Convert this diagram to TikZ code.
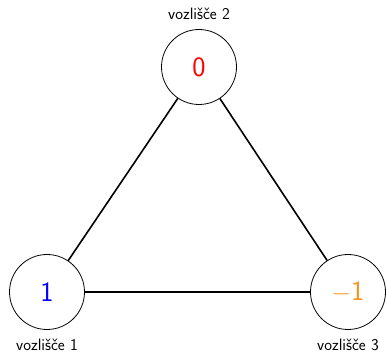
\documentclass[tikz,border=0pt]{standalone}
\usepackage{tikz}
\begin{document}
\begin{tikzpicture}[x=1pt,y=-1pt,
  vertex/.style={circle,draw,line width=0.8pt,minimum size=75pt,inner sep=0pt,font=\fontsize{28}{30}\sffamily},
  lbl/.style={font=\fontsize{16.5}{19}\sffamily,inner sep=0pt},
  edge/.style={line width=1.6pt}]
\useasboundingbox (0,0) rectangle (386,352);
\node[vertex,text=red] (v2) at (199,67) {0};
\node[vertex,text=blue] (v1) at (47,292) {1};
\node[vertex,text={rgb,255:red,247;green,147;blue,30}] (v3) at (348,292) {$-$1};
\node[lbl] (l2) at (199,14) {vozlišče 2};
\node[lbl] (l1) at (47,344.5) {vozlišče 1};
\node[lbl] (l3) at (348,344.5) {vozlišče 3};
\draw[edge] (v1) -- (v2);
\draw[edge] (v2) -- (v3);
\draw[edge] (v1) -- (v3);
\end{tikzpicture}
\end{document}
